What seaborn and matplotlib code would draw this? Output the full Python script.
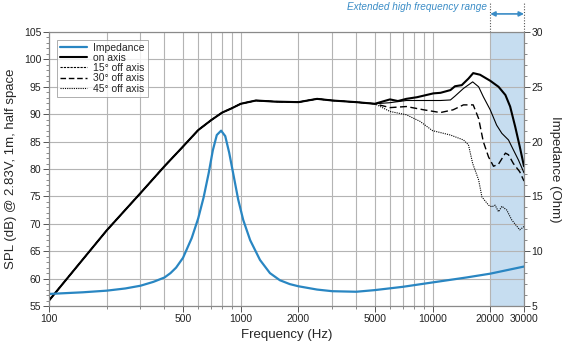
import numpy as np
import pandas as pd
import matplotlib
matplotlib.use('Agg')
import matplotlib.pyplot as plt
import seaborn as sns
from matplotlib.ticker import FixedLocator, MultipleLocator, NullFormatter
from matplotlib.lines import Line2D

# SPL, common part (all four curves coincide up to 5 kHz)
freq_common = [100, 200, 300, 400, 500, 600, 700, 800, 900, 1000, 1200, 1500,
               2000, 2500, 3000, 4000, 5000]
spl_common = [56.0, 68.8, 75.6, 80.5, 84.1, 87.1, 88.9, 90.3, 91.1, 91.9, 92.5,
              92.3, 92.2, 92.8, 92.5, 92.2, 91.9]

# high frequency part of each curve
freq_on = [6000, 6600, 7300, 8300, 10100, 11000, 12400, 13100, 14200, 15400,
           16300, 17700, 20000, 22100, 24000, 25400, 27000, 28500, 30000]
spl_on = [92.7, 92.4, 92.8, 93.1, 93.8, 93.9, 94.4, 95.1, 95.3, 96.5,
          97.5, 97.2, 96.1, 95.0, 93.5, 91.4, 87.7, 84.1, 80.5]

freq_15 = [6000, 7300, 9000, 11000, 12400, 13100, 14500, 16200, 17400, 18400,
           20000, 21600, 23000, 24900, 26400, 28100, 30000]
spl_15 = [92.1, 92.5, 92.5, 92.5, 92.6, 93.3, 94.7, 95.9, 95.0, 93.2,
          90.8, 88.0, 86.5, 85.3, 83.5, 81.6, 79.3]

freq_30 = [6000, 7300, 9000, 11000, 12800, 14500, 16300, 17400, 18400, 19600,
           20800, 22100, 24000, 24900, 26400, 28500, 30000]
spl_30 = [91.2, 91.4, 90.8, 90.3, 90.8, 91.7, 91.7, 89.2, 85.0, 82.2,
          80.5, 80.9, 82.9, 82.6, 81.0, 79.5, 77.8]

freq_45 = [6000, 7300, 8600, 10000, 12400, 14500, 15400, 16200, 17400, 18100,
           19600, 20400, 21200, 22100, 23000, 24400, 25900, 28500, 30000]
spl_45 = [90.5, 89.9, 88.7, 87.0, 86.2, 85.3, 84.4, 81.0, 78.0, 74.9,
          73.4, 73.1, 73.4, 72.2, 73.2, 72.5, 70.7, 68.9, 69.5]

# impedance (Ohm)
freq_imp = [100, 150, 200, 250, 300, 350, 400, 430, 460, 500, 555, 600, 640,
            680, 715, 750, 790, 830, 870, 920, 970, 1030, 1120, 1260, 1420,
            1600, 1800, 2000, 2500, 3000, 4000, 5000, 7000, 10000, 15000,
            20000, 30000]
imp = [6.1, 6.25, 6.4, 6.6, 6.85, 7.2, 7.6, 8.0, 8.5, 9.4, 11.2, 13.0, 14.9,
       17.1, 19.2, 20.6, 21.0, 20.5, 19.0, 16.8, 14.7, 12.85, 11.0, 9.2, 8.0,
       7.35, 7.0, 6.8, 6.5, 6.35, 6.3, 6.45, 6.75, 7.15, 7.6, 7.95, 8.6]

sns.set_theme(style='white')
plt.rcParams['font.family'] = ['Liberation Sans', 'DejaVu Sans']

fig = plt.figure(figsize=(5.8, 3.5), dpi=100)
ax = fig.add_axes([49 / 580, 1 - 306 / 350, 475 / 580, 274 / 350])
ax2 = ax.twinx()

curves = {
    'on axis': (freq_on, spl_on, '-', 1.5),
    '15° off axis': (freq_15, spl_15, '-', 0.8),
    '30° off axis': (freq_30, spl_30, (0, (5, 2.5)), 1.0),
    '45° off axis': (freq_45, spl_45, (0, (1, 1)), 0.8),
}
for name, (f, s, ls, lw) in curves.items():
    df = pd.DataFrame({'f': freq_common + f, 'spl': spl_common + s})
    sns.lineplot(data=df, x='f', y='spl', ax=ax, color='black', linestyle=ls,
                 linewidth=lw, estimator=None, sort=False, zorder=3)

imp_df = pd.DataFrame({'f': freq_imp, 'ohm': imp})
sns.lineplot(data=imp_df, x='f', y='ohm', ax=ax2, color='#2986c2', linewidth=1.6,
             estimator=None, sort=False)

ax.axvspan(20000, 30000, color='#c6ddf0', zorder=0.2, lw=0)

ax.set_xscale('log')
ax2.set_xscale('log')
ax.set_xlim(100, 30000)
ax.set_ylim(55, 105)
ax2.set_ylim(5, 30)

xmajor = [100, 500, 1000, 2000, 5000, 10000, 20000, 30000]
xminor = [200, 300, 400, 600, 700, 800, 900, 3000, 4000, 6000, 7000, 8000, 9000]
ax.xaxis.set_major_locator(FixedLocator(xmajor))
ax.xaxis.set_minor_locator(FixedLocator(xminor))
ax.xaxis.set_minor_formatter(NullFormatter())
ax.set_xticklabels([str(v) for v in xmajor])
ax.yaxis.set_major_locator(MultipleLocator(5))
ax.yaxis.set_minor_locator(MultipleLocator(1))
ax2.yaxis.set_major_locator(MultipleLocator(5))
ax2.yaxis.set_minor_locator(MultipleLocator(1))

grid_c = '#b4b4b4'
ax.set_axisbelow(True)
ax.grid(which='both', axis='x', color=grid_c, linewidth=0.8)
ax.grid(which='major', axis='y', color=grid_c, linewidth=0.8)
ax2.grid(False)

for a in (ax, ax2):
    for sp in a.spines.values():
        sp.set_color('#8a8a8a')
        sp.set_linewidth(0.8)
    a.tick_params(which='major', length=4, width=0.7, color='#555555',
                  labelsize=7.5, pad=1.5, labelcolor='#222222')
    a.tick_params(which='minor', length=2.5, width=0.6, color='#777777')
ax.tick_params(axis='y', which='both', left=True, right=False)
ax.tick_params(axis='x', which='both', bottom=True)
ax2.tick_params(axis='y', which='both', right=True, left=False)

ax.set_xlabel('Frequency (Hz)', fontsize=9.5, labelpad=4)
ax.set_ylabel('SPL (dB) @ 2.83V, 1m, half space', fontsize=9.5, labelpad=5)
ax2.set_ylabel('Impedance (Ohm)', fontsize=9.5, rotation=270, labelpad=13)

handles = [
    Line2D([], [], color='#2986c2', lw=1.6),
    Line2D([], [], color='black', lw=1.5),
    Line2D([], [], color='black', lw=0.8, linestyle=(0, (2, 1))),
    Line2D([], [], color='black', lw=1.0, linestyle=(0, (4, 2))),
    Line2D([], [], color='black', lw=0.8, linestyle=(0, (1, 1))),
]
labels = ['Impedance', 'on axis', '15° off axis', '30° off axis', '45° off axis']
leg = ax2.legend(handles, labels, loc='upper left', bbox_to_anchor=(0.012, 0.98),
                 fontsize=7.5, frameon=True, fancybox=False, handlelength=2.6,
                 handletextpad=0.6, borderpad=0.3, labelspacing=0.02,
                 borderaxespad=0.2)
leg.get_frame().set_edgecolor('#9a9a9a')
leg.get_frame().set_linewidth(0.7)

# extended range annotation above the plot
trans = ax.get_xaxis_transform()
blue = '#3a8cc6'
for xv in (20000, 30000):
    ax.plot([xv, xv], [1.0, 1.105], transform=trans, color='#555555',
            linestyle=(0, (1, 1.5)), linewidth=0.8, clip_on=False)
ax.annotate('', xy=(30000, 1.066), xytext=(20000, 1.066), xycoords=trans,
            textcoords=trans,
            arrowprops=dict(arrowstyle='<|-|>', color=blue, lw=1.2,
                            mutation_scale=7, shrinkA=0, shrinkB=0))
ax.text(19200, 1.09, 'Extended high frequency range', transform=trans,
        ha='right', va='center', fontsize=7.2, style='italic', color=blue)

fig.savefig('out.png', dpi=100)
